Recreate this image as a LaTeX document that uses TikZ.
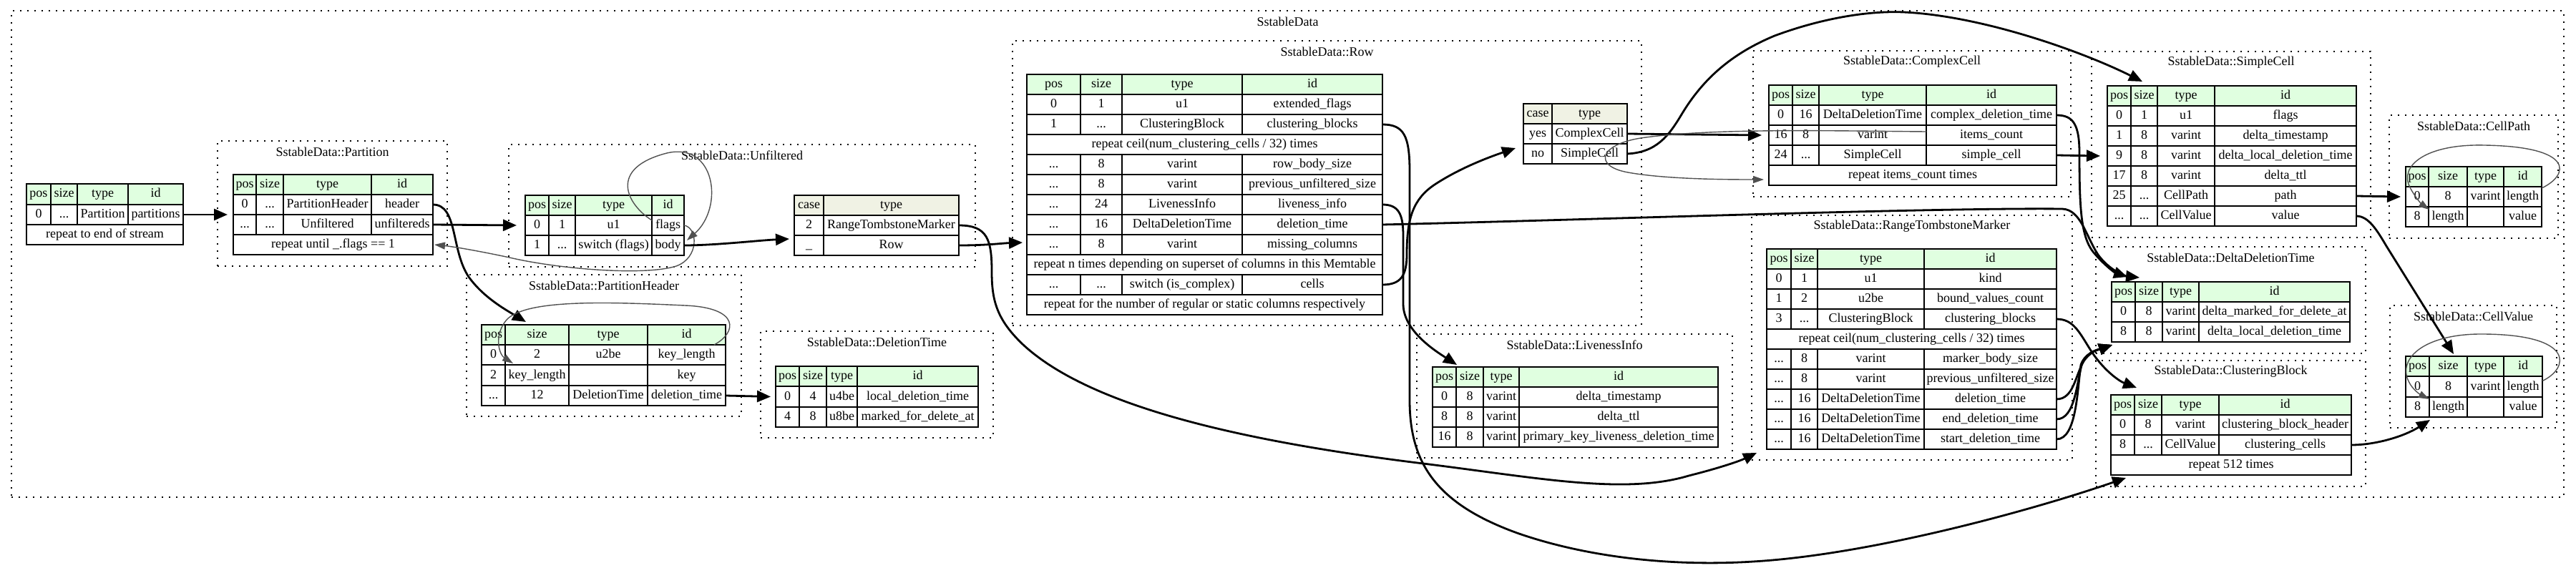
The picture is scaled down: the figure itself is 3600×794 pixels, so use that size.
\documentclass[tikz,border=0pt]{standalone}
\usepackage{fontspec}
\setmainfont{Liberation Serif}
\usetikzlibrary{arrows.meta}
\definecolor{hdrgreen}{HTML}{E0FFE0}
\definecolor{hdrcase}{HTML}{F0F2E4}
\definecolor{edgegray}{HTML}{505050}
\newcommand\cel[7][]{%
  \pgfmathsetmacro\tkw{#4-#3}%
  \pgfmathsetmacro\tkh{#6-#5}%
  \pgfmathsetmacro\tkx{(#3+#4)/2}%
  \pgfmathsetmacro\tky{(#5+#6)/2}%
  \node[cellnode,#1,minimum width=\tkw pt,minimum height=\tkh pt] (#2) at (\tkx,\tky) {#7};%
}
\newcommand\setcols[5]{\def\cA{#1}\def\cB{#2}\def\cC{#3}\def\cD{#4}\def\cE{#5}}
\newcommand\rowf[8][]{%
  \cel[#1]{#2-1}{\cA}{\cB}{#3}{#4}{#5}%
  \cel[#1]{#2-2}{\cB}{\cC}{#3}{#4}{#6}%
  \cel[#1]{#2-3}{\cC}{\cD}{#3}{#4}{#7}%
  \cel[#1]{#2-4}{\cD}{\cE}{#3}{#4}{#8}}
\newcommand\fullrow[4]{\cel{#1}{\cA}{\cE}{#2}{#3}{#4}}
\newcommand\tbl[3]{\cel[tblnode]{#1}{\cA}{\cE}{#2}{#3}{}}
\newcommand\setk[3]{\def\kA{#1}\def\kB{#2}\def\kC{#3}}
\newcommand\rowk[6][]{%
  \cel[#1]{#2-1}{\kA}{\kB}{#3}{#4}{#5}%
  \cel[#1]{#2-2}{\kB}{\kC}{#3}{#4}{#6}}
\newcommand\tblk[3]{\cel[tblnode]{#1}{\kA}{\kC}{#2}{#3}{}}
\newcommand\clu[6]{%
  \cel[clunode]{#1}{#2}{#3}{#4}{#5}{}%
  \pgfmathsetmacro\tkx{(#2+#3)/2}\pgfmathsetmacro\tky{#4+15}%
  \node[titlenode] (#1-t) at (\tkx,\tky) {#6};}
\begin{document}
\begin{tikzpicture}[x=1pt,y=-1pt,
  cellnode/.style={draw, line width=1.4pt, inner sep=0pt, outer sep=0pt,
    font=\fontsize{18}{20}\selectfont, text height=12.5pt, text depth=3.5pt, fill=white},
  hdr/.style={fill=hdrgreen},
  hdrk/.style={fill=hdrcase},
  tblnode/.style={draw, line width=2.2pt, fill=none},
  clunode/.style={draw, line width=1.3pt, dash pattern=on 2pt off 8pt, fill=none},
  titlenode/.style={font=\fontsize{18}{20}\selectfont, inner sep=0pt},
  bold/.style={line width=2.8pt, -{Triangle[length=19pt,width=16pt]}},
  thin/.style={line width=1.4pt, draw=edgegray, -{Triangle[length=15pt,width=10pt]}, fill=none},
]
\useasboundingbox (0,0) rectangle (3600,794);

% ---------- clusters ----------
\clu{cl-main}{16}{3583}{15}{695}{SstableData}
\clu{cl-par}{304}{625}{197}{372}{SstableData::Partition}
\clu{cl-unf}{711}{1363}{202}{373}{SstableData::Unfiltered}
\clu{cl-ph}{652}{1036}{384}{582}{SstableData::PartitionHeader}
\clu{cl-dt}{1063}{1388}{463}{612}{SstableData::DeletionTime}
\clu{cl-row}{1415}{2294}{57}{455}{SstableData::Row}
\clu{cl-li}{1980}{2421}{467}{640}{SstableData::LivenessInfo}
\clu{cl-cc}{2450}{2894}{71}{275}{SstableData::ComplexCell}
\clu{cl-rtm}{2448}{2896}{301}{643}{SstableData::RangeTombstoneMarker}
\clu{cl-sc}{2923}{3313}{72}{332}{SstableData::SimpleCell}
\clu{cl-ddt}{2929}{3306}{345}{494}{SstableData::DeltaDeletionTime}
\clu{cl-cb}{2929}{3306}{504}{680}{SstableData::ClusteringBlock}
\clu{cl-cp}{3339}{3575}{161}{333}{SstableData::CellPath}
\clu{cl-cv}{3340}{3573}{427}{598}{SstableData::CellValue}

% ---------- SstableData ----------
\setcols{37}{71}{108}{179}{256}
\rowf[hdr]{mh}{257}{286}{pos}{size}{type}{id}
\rowf{m1}{286}{314}{0}{...}{Partition}{partitions}
\fullrow{mr}{314}{342}{repeat to end of stream}
\tbl{mt}{257}{342}

% ---------- Partition ----------
\setcols{326}{358}{396}{519}{605}
\rowf[hdr]{pah}{244}{272}{pos}{size}{type}{id}
\rowf{pa1}{272}{300}{0}{...}{PartitionHeader}{header}
\rowf{pa2}{300}{328}{...}{...}{Unfiltered}{unfiltereds}
\fullrow{par}{328}{356}{repeat until \_.flags == 1}
\tbl{pat}{244}{356}

% ---------- Unfiltered ----------
\setcols{734}{767}{804}{911}{956}
\rowf[hdr]{unh}{273}{301}{pos}{size}{type}{id}
\rowf{un1}{301}{329}{0}{1}{u1}{flags}
\rowf{un2}{329}{357}{1}{...}{switch (flags)}{body}
\tbl{unt}{273}{357}
\setk{1110}{1151}{1340}
\rowk[hdrk]{uch}{273}{301}{case}{type}
\rowk{uc1}{301}{329}{2}{RangeTombstoneMarker}
\rowk{uc2}{329}{357}{\_}{Row}
\tblk{uct}{273}{357}

% ---------- PartitionHeader ----------
\setcols{673}{706}{795}{905}{1014}
\rowf[hdr]{phh}{454}{482}{pos}{size}{type}{id}
\rowf{ph1}{482}{510}{0}{2}{u2be}{key\_length}
\rowf{ph2}{510}{539}{2}{key\_length}{}{key}
\rowf{ph3}{539}{567}{...}{12}{DeletionTime}{deletion\_time}
\tbl{pht}{454}{567}

% ---------- DeletionTime ----------
\setcols{1084}{1117}{1155}{1198}{1367}
\rowf[hdr]{dth}{512}{540}{pos}{size}{type}{id}
\rowf{dt1}{540}{569}{0}{4}{u4be}{local\_deletion\_time}
\rowf{dt2}{569}{597}{4}{8}{u8be}{marked\_for\_delete\_at}
\tbl{dtt}{512}{597}

% ---------- Row ----------
\setcols{1435}{1510}{1568}{1736}{1932}
\rowf[hdr]{rh}{104}{132}{pos}{size}{type}{id}
\rowf{r1}{132}{160}{0}{1}{u1}{extended\_flags}
\rowf{r2}{160}{188}{1}{...}{ClusteringBlock}{clustering\_blocks}
\fullrow{rr1}{188}{216}{repeat ceil(num\_clustering\_cells / 32) times}
\rowf{r3}{216}{244}{...}{8}{varint}{row\_body\_size}
\rowf{r4}{244}{272}{...}{8}{varint}{previous\_unfiltered\_size}
\rowf{r5}{272}{300}{...}{24}{LivenessInfo}{liveness\_info}
\rowf{r6}{300}{328}{...}{16}{DeltaDeletionTime}{deletion\_time}
\rowf{r7}{328}{356}{...}{8}{varint}{missing\_columns}
\fullrow{rr2}{356}{384}{repeat n times depending on superset of columns in this Memtable}
\rowf{r8}{384}{412}{...}{...}{switch (is\_complex)}{cells}
\fullrow{rr3}{412}{440}{repeat for the number of regular or static columns respectively}
\tbl{rwt}{104}{440}
\setk{2129}{2169}{2274}
\rowk[hdrk]{rch}{145}{173}{case}{type}
\rowk{rc1}{173}{201}{yes}{ComplexCell}
\rowk{rc2}{201}{229}{no}{SimpleCell}
\tblk{rct}{145}{229}

% ---------- LivenessInfo ----------
\setcols{2002}{2035}{2073}{2123}{2401}
\rowf[hdr]{lih}{513}{541}{pos}{size}{type}{id}
\rowf{li1}{541}{569}{0}{8}{varint}{delta\_timestamp}
\rowf{li2}{569}{597}{8}{8}{varint}{delta\_ttl}
\rowf{li3}{597}{625}{16}{8}{varint}{primary\_key\_liveness\_deletion\_time}
\tbl{lit}{513}{625}

% ---------- ComplexCell ----------
\setcols{2472}{2505}{2542}{2692}{2874}
\rowf[hdr]{cch}{119}{147}{pos}{size}{type}{id}
\rowf{cc1}{147}{175}{0}{16}{DeltaDeletionTime}{complex\_deletion\_time}
\rowf{cc2}{175}{203}{16}{8}{varint}{items\_count}
\rowf{cc3}{203}{231}{24}{...}{SimpleCell}{simple\_cell}
\fullrow{ccr}{231}{259}{repeat items\_count times}
\tbl{cct}{119}{259}

% ---------- RangeTombstoneMarker ----------
\setcols{2469}{2503}{2540}{2689}{2874}
\rowf[hdr]{th}{348}{376}{pos}{size}{type}{id}
\rowf{t1}{376}{404}{0}{1}{u1}{kind}
\rowf{t2}{404}{432}{1}{2}{u2be}{bound\_values\_count}
\rowf{t3}{432}{460}{3}{...}{ClusteringBlock}{clustering\_blocks}
\fullrow{tr}{460}{488}{repeat ceil(num\_clustering\_cells / 32) times}
\rowf{t4}{488}{516}{...}{8}{varint}{marker\_body\_size}
\rowf{t5}{516}{544}{...}{8}{varint}{previous\_unfiltered\_size}
\rowf{t6}{544}{572}{...}{16}{DeltaDeletionTime}{deletion\_time}
\rowf{t7}{572}{600}{...}{16}{DeltaDeletionTime}{end\_deletion\_time}
\rowf{t8}{600}{628}{...}{16}{DeltaDeletionTime}{start\_deletion\_time}
\tbl{rtt}{348}{628}

% ---------- SimpleCell ----------
\setcols{2945}{2978}{3015}{3095}{3293}
\rowf[hdr]{sh}{120}{148}{pos}{size}{type}{id}
\rowf{s1}{148}{176}{0}{1}{u1}{flags}
\rowf{s2}{176}{204}{1}{8}{varint}{delta\_timestamp}
\rowf{s3}{204}{232}{9}{8}{varint}{delta\_local\_deletion\_time}
\rowf{s4}{232}{260}{17}{8}{varint}{delta\_ttl}
\rowf{s5}{260}{288}{25}{...}{CellPath}{path}
\rowf{s6}{288}{316}{...}{...}{CellValue}{value}
\tbl{sct}{120}{316}

% ---------- CellPath ----------
\setcols{3362}{3394}{3448}{3499}{3552}
\rowf[hdr]{cph}{233}{261}{pos}{size}{type}{id}
\rowf{cp1}{261}{289}{0}{8}{varint}{length}
\rowf{cp2}{289}{317}{8}{length}{}{value}
\tbl{cpt}{233}{317}

% ---------- DeltaDeletionTime ----------
\setcols{2951}{2984}{3022}{3073}{3284}
\rowf[hdr]{ddh}{394}{422}{pos}{size}{type}{id}
\rowf{dd1}{422}{450}{0}{8}{varint}{delta\_marked\_for\_delete\_at}
\rowf{dd2}{450}{478}{8}{8}{varint}{delta\_local\_deletion\_time}
\tbl{ddt}{394}{478}

% ---------- ClusteringBlock ----------
\setcols{2950}{2983}{3021}{3101}{3286}
\rowf[hdr]{cbh}{552}{580}{pos}{size}{type}{id}
\rowf{cb1}{580}{608}{0}{8}{varint}{clustering\_block\_header}
\rowf{cb2}{608}{636}{8}{...}{CellValue}{clustering\_cells}
\fullrow{cbr}{636}{664}{repeat 512 times}
\tbl{cbt}{552}{664}

% ---------- CellValue ----------
\setcols{3362}{3395}{3448}{3499}{3553}
\rowf[hdr]{cvh}{498}{526}{pos}{size}{type}{id}
\rowf{cv1}{526}{555}{0}{8}{varint}{length}
\rowf{cv2}{555}{583}{8}{length}{}{value}
\tbl{cvt}{498}{583}

% ---------- edges ----------
\draw[bold] (m1-4.east) -- ([xshift=-8pt]pat.west);
\draw[bold] (pa1-4.east) .. controls (640,286) and (630,350) .. (655,387) .. controls (675,415) and (705,432) .. ([xshift=62pt,yshift=4pt]pht.north west);
\draw[bold] (pa2-4.east) -- ([xshift=-12pt]unt.west);
\draw[thin] (un1-4.east) .. controls (975,318) and (978,360) .. (945,372) .. controls (900,386) and (780,376) .. (712,360) .. controls (670,351) and (635,345) .. ([xshift=2pt]par.east);
\draw[thin] ([yshift=7pt]un1-4.west) .. controls (875,285) and (850,235) .. (932,214) .. controls (1000,198) and (1012,290) .. ([xshift=4pt,yshift=-7pt]un2-4.north east);
\draw[bold] (un2-4.east) .. controls (1000,343) and (1060,336) .. ([xshift=-7pt,yshift=-19pt]uct.west);
\draw[bold] (uc1-2.east) .. controls (1380,315) and (1386,335) .. (1386,380) .. controls (1386,420) and (1393,447) .. (1430,482) .. controls (1520,565) and (1720,615) .. (1989,648) .. controls (2150,668) and (2270,692) .. (2360,665) .. controls (2400,655) and (2430,645) .. ([xshift=-14pt,yshift=-5pt]rtt.south west);
\draw[bold] (uc2-2.east) .. controls (1380,343) and (1400,340) .. ([xshift=-6pt,yshift=-67pt]rwt.west);
\draw[bold] (r2-4.east) .. controls (1962,174) and (1970,190) .. (1970,240) -- (1970,560) .. controls (1970,650) and (2010,705) .. (2120,745) .. controls (2220,780) and (2340,792) .. (2450,785) .. controls (2620,775) and (2850,710) .. ([xshift=21pt,yshift=-4pt]cbt.south west);
\draw[bold] (r5-4.east) .. controls (1955,286) and (1961,300) .. (1961,330) -- (1961,425) .. controls (1961,462) and (2005,490) .. ([xshift=34pt,yshift=3pt]lit.north west);
\draw[bold] (r8-4.east) .. controls (1958,398) and (1966,385) .. (1966,355) .. controls (1966,305) and (1975,278) .. (2005,258) .. controls (2040,235) and (2080,220) .. ([xshift=-11pt,yshift=-20pt]rct.west);
\draw[bold] (r6-4.east) .. controls (2200,308) and (2700,290) .. (2882,292) .. controls (2908,293) and (2915,330) .. (2932,356) .. controls (2948,378) and (2970,386) .. ([xshift=39pt,yshift=6pt]ddt.north west);
\draw[bold] (cc1-4.east) .. controls (2898,161) and (2906,175) .. (2906,215) .. controls (2906,290) and (2908,330) .. (2925,352) .. controls (2940,370) and (2955,381) .. ([xshift=22pt,yshift=7pt]ddt.north west);
\draw[bold] (t6-4.east) .. controls (2898,558) and (2900,525) .. (2912,505) .. controls (2922,490) and (2935,488) .. ([xshift=1pt,yshift=-4pt]ddt.south west);
\draw[bold] (t7-4.east) .. controls (2900,586) and (2902,535) .. (2910,507) .. controls (2918,490) and (2935,488) .. ([xshift=1pt,yshift=-4pt]ddt.south west);
\draw[bold] (t8-4.east) .. controls (2902,614) and (2903,545) .. (2908,510) .. controls (2914,492) and (2935,488) .. ([xshift=1pt,yshift=-4pt]ddt.south west);
\draw[bold] (t3-4.east) .. controls (2898,446) and (2906,465) .. (2922,490) .. controls (2940,518) and (2962,533) .. ([xshift=36pt,yshift=10pt]cbt.north west);
\draw[bold] (rc1-2.east) -- ([xshift=-10pt]cct.west);
\draw[bold] (rc2-2.east) .. controls (2315,213) and (2332,190) .. (2350,160) .. controls (2380,110) and (2420,75) .. (2480,50) .. controls (2550,24) and (2615,15) .. (2660,17) .. controls (2770,22) and (2910,72) .. ([xshift=49pt,yshift=6pt]sct.north west);
\draw[thin] ([yshift=5pt]cc2-4.west) .. controls (2560,183) and (2400,179) .. (2300,192) .. controls (2235,200) and (2225,232) .. (2275,241) .. controls (2330,251) and (2420,251) .. ([xshift=-7pt,yshift=-6pt]ccr.west);
\draw[bold] (cc3-4.east) -- ([xshift=-10pt]sct.west);
\draw[bold] (s5-4.east) -- ([xshift=-7pt]cpt.west);
\draw[bold] (s6-4.east) .. controls (3310,302) and (3322,322) .. (3335,344) -- ([xshift=67pt,yshift=3pt]cvt.north west);
\draw[thin] ([yshift=12pt]cp1-4.east) .. controls (3590,245) and (3600,205) .. (3472,203) .. controls (3390,201) and (3352,232) .. (3368,262) .. controls (3375,276) and (3385,286) .. ([xshift=1pt,yshift=-4pt]cp2-2.north west);
\draw[thin] ([yshift=8pt]cv1-4.east) .. controls (3590,515) and (3600,468) .. (3471,467) .. controls (3390,466) and (3350,500) .. (3366,533) .. controls (3372,546) and (3385,553) .. ([yshift=-3pt]cv2-2.north west);
\draw[thin] ([xshift=-16pt]ph1-4.north east) .. controls (1030,465) and (1035,430) .. (957,427) .. controls (850,422) and (735,418) .. (708,447) .. controls (690,468) and (697,495) .. ([xshift=11pt,yshift=2pt]ph2-2.north west);
\draw[bold] (ph3-4.east) -- ([xshift=-7pt]dtt.west);
\draw[bold] (cb2-4.east) .. controls (3320,622) and (3360,610) .. ([xshift=34pt,yshift=-4pt]cvt.south west);
\end{tikzpicture}
\end{document}
